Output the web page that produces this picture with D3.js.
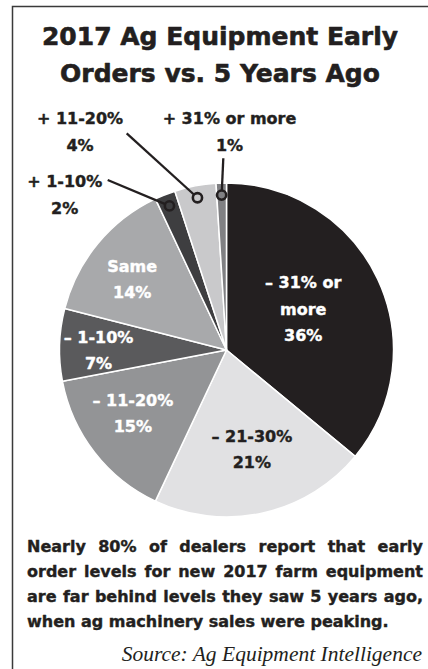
<!DOCTYPE html>
<html>
<head>
<meta charset="utf-8">
<script src="https://cdn.jsdelivr.net/npm/d3@7"></script>
<style>
  html, body { margin: 0; padding: 0; background: #fff; }
  svg { display: block; }
</style>
</head>
<body>
<svg id="chart" width="428" height="669"></svg>
<script>
// ---- data ----
const titleLines = ["2017 Ag Equipment Early", "Orders vs. 5 Years Ago"];
const categories = ["– 31% or more", "– 21-30%", "– 11-20%", "– 1-10%", "Same", "+ 1-10%", "+ 11-20%", "+ 31% or more"];
const shares = [36, 21, 15, 7, 14, 2, 4, 1];
const noteLines = [
  "Nearly 80% of dealers report that early",
  "order levels for new 2017 farm equipment",
  "are far behind levels they saw 5 years ago,",
  "when ag machinery sales were peaking."
];
const sourceText = "Source: Ag Equipment Intelligence";

// ---- drawing ----
const W = 428, H = 669;
const ink = "#231f20";
const sans = "'DejaVu Sans', sans-serif";
const svg = d3.select("#chart");

// heavier bold: thin outline in the fill colour
const heavy = (sel, fill, w) => sel.attr("fill", fill).attr("stroke", fill)
  .attr("stroke-width", w).attr("stroke-linejoin", "round");

// box frame (left and top rules)
svg.append("path")
  .attr("d", `M12.5,${H + 2}V6.5H${W + 2}`)
  .attr("fill", "none")
  .attr("stroke", "#3a3a3a")
  .attr("stroke-width", 1.5);

// title
svg.append("g").selectAll("text").data(titleLines).join("text")
  .attr("x", 220)
  .attr("y", (d, i) => 45 + i * 37)
  .attr("text-anchor", "middle")
  .attr("font-family", sans)
  .attr("font-weight", "bold")
  .attr("font-size", 25)
  .call(heavy, ink, 0.6)
  .text(d => d);

// pie
const cx = 226.5, cy = 350, R = 167;
const palette = ["#231f20", "#e1e1e3", "#939496", "#5a5a5c", "#a8a9ab", "#3e3e40", "#c9c9cb", "#808083"];
const color = d3.scaleOrdinal(categories, palette);
const rows = categories.map((c, i) => ({ category: c, value: shares[i] }));
const arcs = d3.pie().sort(null).value(d => d.value)(rows);
const arc = d3.arc().innerRadius(0).outerRadius(R);

const g = svg.append("g").attr("transform", `translate(${cx},${cy})`);
g.selectAll("path.slice").data(arcs).join("path")
  .attr("class", "slice")
  .attr("d", arc)
  .attr("fill", d => color(d.data.category))
  .attr("stroke", "#fff")
  .attr("stroke-width", 1.5)
  .attr("stroke-linejoin", "round");

const midAngle = d => (d.startAngle + d.endAngle) / 2;
const polar = (a, r) => [r * Math.sin(a), -r * Math.cos(a)];
const deg = Math.PI / 180;

// labels set inside the larger slices: angle offset from slice middle, radius, text colour, line breaks
const insideLayout = {
  "– 31% or more": { da: -3,   r: 87,  fill: "#fff", lines: ["– 31% or", "more"] },
  "– 21-30%":      { da: -1.8, r: 102, fill: ink },
  "– 11-20%":      { da: 3.8,  r: 113, fill: "#fff" },
  "– 1-10%":       { da: -1.8, r: 128, fill: "#fff" },
  "Same":          { da: -2.7, r: 118, fill: "#fff" }
};
const lineH = 26.5;
arcs.filter(d => insideLayout[d.data.category]).forEach(d => {
  const L = insideLayout[d.data.category];
  const lines = (L.lines || [d.data.category]).concat([d.data.value + "%"]);
  const [x, y] = polar(midAngle(d) + L.da * deg, L.r);
  const first = y - (lines.length - 1) * lineH / 2 + 6;
  g.append("text")
    .attr("text-anchor", "middle")
    .attr("font-family", sans)
    .attr("font-weight", "bold")
    .attr("font-size", 16)
    .call(heavy, L.fill, 0.4)
    .selectAll("tspan").data(lines).join("tspan")
    .attr("x", x)
    .attr("y", (t, i) => first + i * lineH)
    .text(t => t);
});

// callout labels for the thin slices: text centre, first baseline, leader start (page coordinates)
const calloutLayout = {
  "+ 1-10%":       { x: 64.7,  y: 187, lx: 107.7, ly: 180 },
  "+ 11-20%":      { x: 80,    y: 124, lx: 126.7, ly: 133.3 },
  "+ 31% or more": { x: 229.5, y: 124, lx: 223.3, ly: 158.3 }
};
const dotR = 155;
arcs.filter(d => calloutLayout[d.data.category]).forEach(d => {
  const C = calloutLayout[d.data.category];
  const [px, py] = polar(midAngle(d), dotR);
  svg.append("line")
    .attr("x1", C.lx).attr("y1", C.ly)
    .attr("x2", cx + px).attr("y2", cy + py)
    .attr("stroke", ink)
    .attr("stroke-width", 2.3);
  svg.append("circle")
    .attr("cx", cx + px).attr("cy", cy + py)
    .attr("r", 4.6)
    .attr("fill", color(d.data.category))
    .attr("stroke", ink)
    .attr("stroke-width", 2.6);
  svg.append("text")
    .attr("text-anchor", "middle")
    .attr("font-family", sans)
    .attr("font-weight", "bold")
    .attr("font-size", 16)
    .call(heavy, ink, 0.4)
    .selectAll("tspan").data([d.data.category, d.data.value + "%"]).join("tspan")
    .attr("x", C.x)
    .attr("y", (t, i) => C.y + i * lineH)
    .text(t => t);
});

// justified note paragraph
const noteLeft = 27, noteRight = 423, noteTop = 551.5, noteLead = 25.3;
const note = svg.append("g")
  .attr("font-family", sans)
  .attr("font-weight", "bold")
  .attr("font-size", 16)
  .call(heavy, ink, 0.4);
noteLines.forEach((line, i) => {
  const y = noteTop + i * noteLead;
  const words = line.split(" ");
  const nodes = words.map(w => note.append("text").attr("y", y).text(w));
  const widths = nodes.map(n => n.node().getComputedTextLength());
  const isLast = i === noteLines.length - 1;
  const spaceW = 16 * 0.348;
  const gap = isLast ? spaceW
    : (noteRight - noteLeft - d3.sum(widths)) / (words.length - 1);
  let x = noteLeft;
  nodes.forEach((n, k) => {
    n.attr("x", x);
    x += widths[k] + gap;
  });
});

// source line
svg.append("text")
  .attr("x", 422)
  .attr("y", 661)
  .attr("text-anchor", "end")
  .attr("font-family", "'Liberation Serif', serif")
  .attr("font-style", "italic")
  .attr("font-size", 21.5)
  .attr("fill", ink)
  .text(sourceText);
</script>
</body>
</html>
